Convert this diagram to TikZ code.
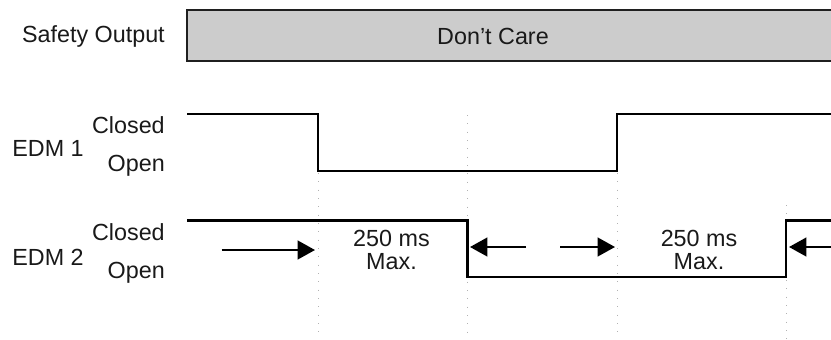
\documentclass[tikz,border=0pt]{standalone}
\usepackage{fontspec}
\setmainfont{Liberation Sans}
\usetikzlibrary{arrows.meta}
\begin{document}
\begin{tikzpicture}[x=0.75pt,y=-0.75pt,
  lbl/.style={font=\fontsize{17.5}{18}\selectfont, inner sep=0pt, text=black!90},
  sig/.style={line width=1.6pt, black, line join=miter},
  guide/.style={black!30, line width=0.75pt, dash pattern=on 0.75pt off 5.5pt},
  arr/.style={line width=1.6pt, black, -{Triangle[length=13pt,width=14pt]}}]
\useasboundingbox (0,0) rectangle (831,339);
\clip (0,0) rectangle (831,339);

% Safety output box
\fill[black!20] (187,10) rectangle (845,61);
\draw[line width=1.6pt, black!88] (845,10) -- (187,10) -- (187,61) -- (845,61);
\node[lbl, anchor=base east] (so) at (165,42.5) {Safety Output};
\node[lbl, anchor=base] (dc) at (493,44) {Don’t Care};

% guide lines
\draw[guide] (318,173) -- (318,339);
\draw[guide] (467.5,115) -- (467.5,339);
\draw[guide] (617,173) -- (617,339);
\draw[guide] (786,205) -- (786,339);

% EDM 1
\node[lbl, anchor=base] (e1) at (48,156) {EDM 1};
\node[lbl, anchor=base east] (c1) at (165,133) {Closed};
\node[lbl, anchor=base east] (o1) at (165,171) {Open};
\draw[sig] (187,114) -- (317.7,114) -- (317.7,171) -- (617,171) -- (617,114) -- (840,114);

% EDM 2
\node[lbl, anchor=base] (e2) at (48,265) {EDM 2};
\node[lbl, anchor=base east] (c2) at (165,240) {Closed};
\node[lbl, anchor=base east] (o2) at (165,278) {Open};
\draw[sig] (187,220.5) -- (467.5,220.5) -- (467.5,277) -- (786,277) -- (786,220.5) -- (840,220.5);

% timing labels
\node[lbl, anchor=base] (t1a) at (391.5,246.7) {250 ms};
\node[lbl, anchor=base] (t1b) at (391.5,269.5) {Max.};
\node[lbl, anchor=base] (t2a) at (699,246.7) {250 ms};
\node[lbl, anchor=base] (t2b) at (699,269.5) {Max.};

% arrows
\coordinate (a1s) at (221.5,250);
\coordinate (a1e) at (315,250);
\coordinate (a2s) at (526,247);
\coordinate (a2e) at (470,247);
\coordinate (a3s) at (560,247);
\coordinate (a3e) at (615,247);
\coordinate (a4s) at (845,247);
\coordinate (a4e) at (789,247);
\draw[arr] (a1s) -- (a1e);
\draw[arr] (a2s) -- (a2e);
\draw[arr] (a3s) -- (a3e);
\draw[arr] (a4s) -- (a4e);
\end{tikzpicture}
\end{document}
